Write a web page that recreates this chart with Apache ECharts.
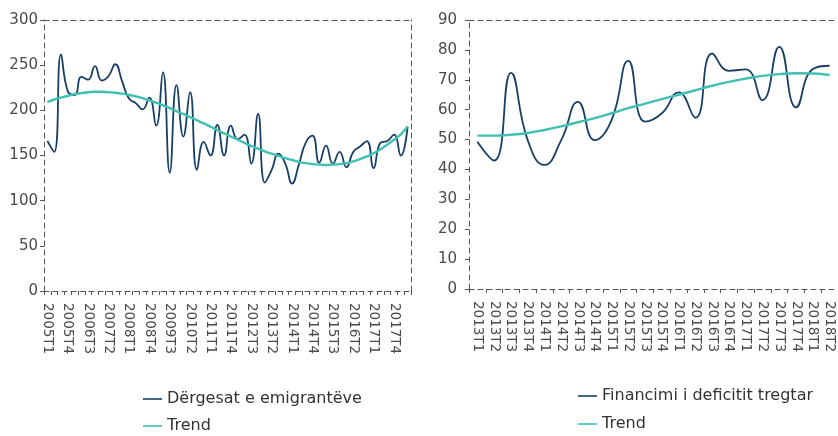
<!DOCTYPE html>
<html>
<head>
<meta charset="utf-8">
<script src="https://cdn.jsdelivr.net/npm/echarts@6/dist/echarts.min.js"></script>
<style>
  html, body { margin: 0; padding: 0; background: #fff; }
  #chart { width: 838px; height: 436px; }
</style>
</head>
<body>
<div id="chart"></div>
<script>
// Dërgesat e emigrantëve (left)
const remitQuarters = [
  '2005T1','2005T2','2005T3','2005T4','2006T1','2006T2','2006T3','2006T4',
  '2007T1','2007T2','2007T3','2007T4','2008T1','2008T2','2008T3','2008T4',
  '2009T1','2009T2','2009T3','2009T4','2010T1','2010T2','2010T3','2010T4',
  '2011T1','2011T2','2011T3','2011T4','2012T1','2012T2','2012T3','2012T4',
  '2013T1','2013T2','2013T3','2013T4','2014T1','2014T2','2014T3','2014T4',
  '2015T1','2015T2','2015T3','2015T4','2016T1','2016T2','2016T3','2016T4',
  '2017T1','2017T2','2017T3','2017T4','2018T1','2018T2'
]
const remitValues = [
  166, 154, 262, 221, 217, 237, 234, 249, 233, 238, 251, 232, 213, 208, 201, 214,
  183, 242, 131, 228, 171, 220, 134, 165, 150, 184, 150, 183, 168, 173, 141, 196,
  120, 134, 152, 141, 119, 140, 164, 172, 142, 161, 141, 154, 137, 154, 160, 166,
  136, 164, 166, 173, 150, 182
]
const remitTrend = [
  209, 212, 214, 216, 218, 219, 220, 220.5, 220.5, 220, 219.5, 218.5, 217, 215.5, 213.5, 211,
  208.5, 205.5, 202.5, 199, 196, 192.5, 189, 185.5, 182, 178, 174.5, 171, 167.5, 164, 160.5, 157.5,
  154.5, 152, 149.5, 147, 145, 143, 141.5, 140.5, 140, 139.5, 140, 140.5, 141.5, 143.5, 146, 149,
  152.5, 157, 162, 167.5, 173.5, 182
]

// Financimi i deficitit tregtar (right)
const deficitQuarters = [
  '2013T1','2013T2','2013T3','2013T4','2014T1','2014T2','2014T3','2014T4',
  '2015T1','2015T2','2015T3','2015T4','2016T1','2016T2','2016T3','2016T4',
  '2017T1','2017T2','2017T3','2017T4','2018T1','2018T2'
]
const deficitValues = [
  49.3, 43, 72.3, 49.8, 41.5, 49.8, 62.6, 49.8, 56.5, 76.3, 56, 58.8,
  65.8, 57.3, 78.8, 73, 73.5, 63.2, 81, 60.8, 73.6, 74.7
]
const deficitTrend = [
  51.3, 51.3, 51.6, 52.2, 53.2, 54.4, 55.8, 57.2, 58.8, 60.5, 62, 63.5,
  65, 66.5, 68, 69.3, 70.4, 71.3, 71.9, 72.2, 72.1, 71.6
]

const navy = '#183f66'
const teal = '#3fc0b3'
const axisColor = '#555'
const labelColor = '#4a4a4a'
const font = 'DejaVu Sans'

const chart = echarts.init(document.getElementById('chart'))

const dashed = { show: true, onZero: false, lineStyle: { color: axisColor, width: 1, type: [5, 4] } }

function borderAxis(gridIndex, position) {
  return {
    gridIndex: gridIndex,
    type: 'value',
    position: position,
    axisLine: dashed,
    axisTick: { show: false },
    axisLabel: { show: false },
    splitLine: { show: false }
  }
}

function lineSeries(name, data, color, width, axisIndex) {
  return {
    name: name,
    type: 'line',
    xAxisIndex: axisIndex,
    yAxisIndex: axisIndex,
    data: data,
    smooth: 0.5,
    showSymbol: false,
    symbol: 'none',
    lineStyle: { color: color, width: width },
    itemStyle: { color: color }
  }
}

// one legend entry per component so every row sits where the reference has it
function legendRow(name, left, top) {
  return {
    data: [name],
    left: left,
    top: top,
    icon: 'rect',
    itemWidth: 19,
    itemHeight: 1.6,
    itemGap: 0,
    selectedMode: false,
    textStyle: { fontFamily: font, fontSize: 16, color: '#333', lineHeight: 18 }
  }
}

const option = {
  animation: false,
  backgroundColor: '#fff',
  textStyle: { fontFamily: font },
  grid: [
    { left: 44, top: 20, width: 367, height: 271 },
    { left: 469, top: 20, width: 372, height: 269 }
  ],
  legend: [
    legendRow('Dërgesat e emigrantëve', 138, 385),
    legendRow('Trend', 138, 412),
    legendRow('Financimi i deficitit tregtar', 573, 382),
    legendRow('Trend', 573, 410)
  ],
  xAxis: [
    {
      gridIndex: 0,
      type: 'category',
      data: remitQuarters,
      boundaryGap: true,
      axisLine: dashed,
      axisTick: { show: true, interval: 0, length: 4, lineStyle: { color: axisColor } },
      axisLabel: { interval: 2, rotate: -90, margin: 12, fontSize: 13.5, color: labelColor, fontFamily: font }
    },
    borderAxis(0, 'top'),
    {
      gridIndex: 1,
      type: 'category',
      data: deficitQuarters,
      boundaryGap: true,
      axisLine: dashed,
      axisTick: { show: true, interval: 0, length: 4, lineStyle: { color: axisColor } },
      axisLabel: { interval: 0, rotate: -90, margin: 12, fontSize: 13.5, color: labelColor, fontFamily: font }
    },
    borderAxis(1, 'top')
  ],
  yAxis: [
    {
      gridIndex: 0,
      type: 'value',
      min: 0,
      max: 300,
      interval: 50,
      axisLine: dashed,
      axisTick: { show: true, length: 4, lineStyle: { color: axisColor } },
      axisLabel: { margin: 6, fontSize: 15, color: labelColor, fontFamily: font },
      splitLine: { show: false }
    },
    borderAxis(0, 'right'),
    {
      gridIndex: 1,
      type: 'value',
      min: 0,
      max: 90,
      interval: 10,
      axisLine: dashed,
      axisTick: { show: true, length: 4, lineStyle: { color: axisColor } },
      axisLabel: { margin: 12, fontSize: 15, color: labelColor, fontFamily: font },
      splitLine: { show: false }
    },
    borderAxis(1, 'right')
  ],
  series: [
    lineSeries('Dërgesat e emigrantëve', remitValues, navy, 1.8, 0),
    lineSeries('Trend', remitTrend, teal, 2.4, 0),
    lineSeries('Financimi i deficitit tregtar', deficitValues, navy, 1.8, 2),
    lineSeries('Trend', deficitTrend, teal, 2.4, 2)
  ]
}

chart.setOption(option)
</script>
</body>
</html>
